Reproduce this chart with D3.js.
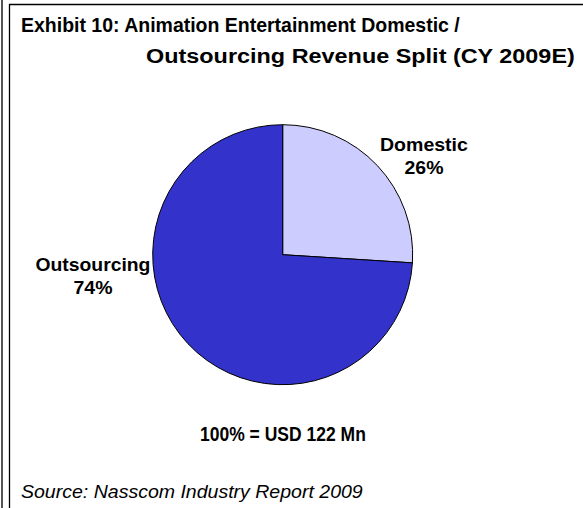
<!DOCTYPE html>
<html>
<head>
<meta charset="utf-8">
<script src="https://cdn.jsdelivr.net/npm/d3@7"></script>
<style>
  body { margin: 0; background: #fff; }
  svg text { font-family: "Liberation Sans", Arial, sans-serif; fill: #000; }
</style>
</head>
<body>
<div id="chart"></div>
<script>
// chart data
const categories = ["Domestic", "Outsourcing"];
const shares = [26, 74];
const colors = ["#ccccff", "#3333cc"];
const titleLines = ["Exhibit 10: Animation Entertainment Domestic /", "Outsourcing Revenue Split (CY 2009E)"];
const totalNote = "100% = USD 122 Mn";
const sourceNote = "Source: Nasscom Industry Report 2009";

const width = 583, height = 508;
let svg = d3.select("#chart").append("svg")
    .attr("width", width)
    .attr("height", height);

// stretch a left-anchored text horizontally so it spans w pixels
function fitText(sel, x, y, w) {
  let natural = sel.node().getComputedTextLength();
  sel.attr("x", 0).attr("y", 0)
     .attr("transform", `translate(${x},${y}) scale(${w / natural},1)`);
  return sel;
}

// frame lines
svg.append("line").attr("x1", 2).attr("x2", 2).attr("y1", 0).attr("y2", height)
    .attr("stroke", "#555").attr("stroke-width", 2);
svg.append("line").attr("x1", 9.5).attr("x2", 9.5).attr("y1", 4).attr("y2", height)
    .attr("stroke", "#000").attr("stroke-width", 1.3);
svg.append("line").attr("x1", 9).attr("x2", width).attr("y1", 4.5).attr("y2", 4.5)
    .attr("stroke", "#000").attr("stroke-width", 1.3);

// title
fitText(svg.append("text")
    .style("font-size", "20px").style("font-weight", "bold")
    .text(titleLines[0]), 21, 32, 439);
fitText(svg.append("text")
    .style("font-size", "20px").style("font-weight", "bold")
    .text(titleLines[1]), 146, 63, 429);

// pie
const cx = 282.7, cy = 254.7, r = 130;
let data = categories.map((c, i) => ({name: c, value: shares[i], color: colors[i]}));
let pie = d3.pie().sort(null).value(d => d.value);
let arc = d3.arc().innerRadius(0).outerRadius(r);

let g = svg.append("g").attr("transform", `translate(${cx},${cy})`);
g.selectAll("path")
    .data(pie(data))
    .enter()
    .append("path")
    .attr("d", arc)
    .attr("fill", d => d.data.color)
    .attr("stroke", "#000")
    .attr("stroke-width", 1);

// slice labels
const labelPos = {Domestic: [424, 151, 88], Outsourcing: [93, 271, 115]};
data.forEach(d => {
  let p = labelPos[d.name];
  fitText(svg.append("text")
      .style("font-size", "18px").style("font-weight", "bold")
      .text(d.name), p[0] - p[2] / 2, p[1], p[2]);
  fitText(svg.append("text")
      .style("font-size", "18px").style("font-weight", "bold")
      .text(d.value + "%"), p[0] - 19.5, p[1] + 23, 39);
});

// total note
fitText(svg.append("text")
    .style("font-size", "20px").style("font-weight", "bold")
    .text(totalNote), 200, 441, 166);

// source
fitText(svg.append("text")
    .style("font-size", "18px").style("font-style", "italic")
    .text(sourceNote), 21, 498, 342);
</script>
</body>
</html>
